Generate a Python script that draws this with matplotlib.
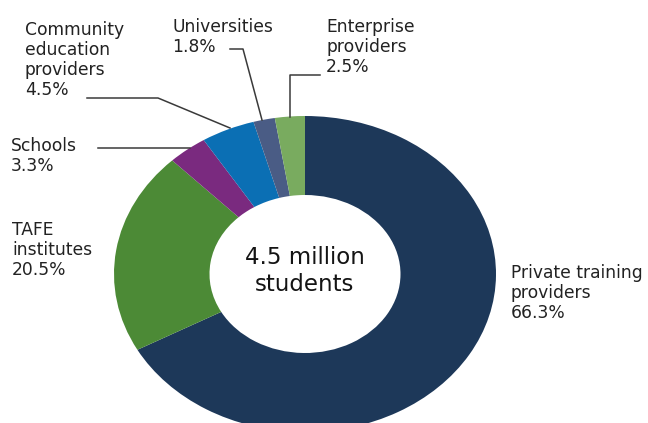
import matplotlib
matplotlib.use("Agg")
from matplotlib import pyplot as plt
from matplotlib.lines import Line2D

# data, clockwise from 12 o'clock
sectors = ["Private training\nproviders", "TAFE\ninstitutes", "Schools",
           "Community\neducation\nproviders", "Universities", "Enterprise\nproviders"]
shares = [66.3, 20.5, 3.3, 4.5, 1.8, 2.5]
colours = ["#1d3859", "#4c8a36", "#7a2a7f", "#0b6fb4", "#4a5c85", "#79ab5f"]
centre_label = "4.5 million\nstudents"

W, H = 648, 423
plt.rcParams['font.family'] = ['DejaVu Sans']

def fx(x):
    return x / W

def fy(y):
    return 1 - y / H

fig = plt.figure(figsize=(W / 100, H / 100), dpi=100)
# the ring is a bit squashed vertically in the original
cx, cy, rx, ry = 305, 274, 191, 158
ax = fig.add_axes([fx(cx - rx), fy(cy + ry), 2 * rx / W, 2 * ry / H])
ax.pie(shares, colors=colours, startangle=90, counterclock=False,
       wedgeprops=dict(width=0.5, linewidth=0), radius=1)
ax.set_aspect('auto')
ax.set_xlim(-1, 1)
ax.set_ylim(-1, 1)
ax.axis('off')

ax.text(0.0, 0.02, centre_label, ha='center', va='center', fontsize=16.5,
        color='#141414', linespacing=1.22)

txt = '#222222'
labels = [
    (sectors[0] + "\n%.1f%%" % shares[0], 511, 264),
    (sectors[1] + "\n%.1f%%" % shares[1], 12, 221),
    (sectors[2] + "\n%.1f%%" % shares[2], 11, 137),
    (sectors[3] + "\n%.1f%%" % shares[3], 25, 21),
    (sectors[4] + "\n%.1f%%" % shares[4], 172, 18),
    (sectors[5] + "\n%.1f%%" % shares[5], 326, 18),
]
for s, x, y in labels:
    fig.text(fx(x), fy(y), s, ha='left', va='top', fontsize=12.3,
             color=txt, linespacing=1.14)

leaders = [
    [(98, 148), (190, 148)],
    [(87, 98), (158, 98), (230, 128)],
    [(230, 49), (243, 49), (262, 120)],
    [(320, 75), (290, 75), (290, 117)],
]
for pts in leaders:
    xs = [fx(p[0]) for p in pts]
    ys = [fy(p[1]) for p in pts]
    fig.add_artist(Line2D(xs, ys, color='#3a3a3a', linewidth=1.1))

fig.savefig("out.png", dpi=100)
